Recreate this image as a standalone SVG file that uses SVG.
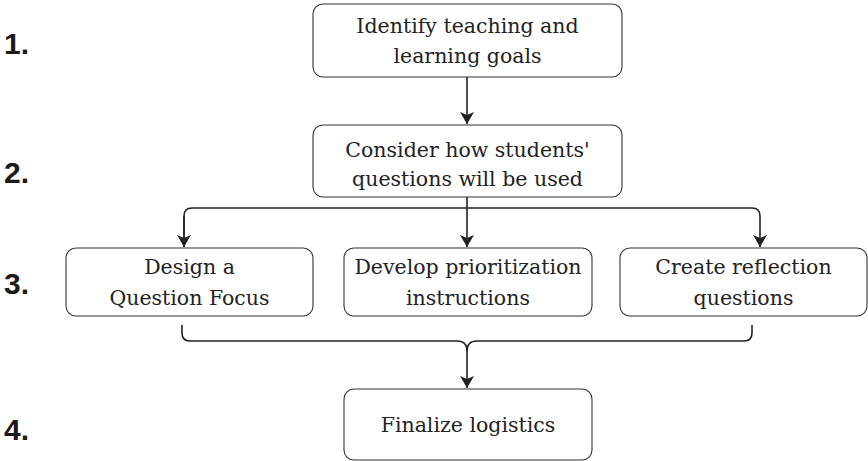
<svg xmlns="http://www.w3.org/2000/svg" width="868" height="461" viewBox="0 0 868 461">
<style>
.box{fill:#fff;stroke:#333;stroke-width:1.1}
.t{font-family:"DejaVu Serif","Liberation Serif",serif;font-size:20.5px;fill:#222;text-anchor:middle}
.n{font-family:"Liberation Sans",Arial,sans-serif;font-size:30px;font-weight:bold;fill:#1a1a1a}
.c{fill:none;stroke:#222;stroke-width:1.6}
</style>
<defs>
<marker id="ah" viewBox="0 0 12 14" refX="12" refY="7" markerWidth="12" markerHeight="14" markerUnits="userSpaceOnUse" orient="auto">
<path d="M0,0 L12,7 L0,14 L3,7 Z" fill="#222"/>
</marker>
</defs>
<rect width="868" height="461" fill="#fff"/>
<g id="labels">
<text class="n" x="4" y="54">1.</text>
<text class="n" x="4" y="183">2.</text>
<text class="n" x="4" y="294">3.</text>
<text class="n" x="4" y="440">4.</text>
</g>
<g id="connectors">
<path class="c" d="M467,77 V124" marker-end="url(#ah)"/>
<path class="c" d="M467,197 V247" marker-end="url(#ah)"/>
<path class="c" d="M184,247 V216 Q184,208 192,208 H752 Q760,208 760,216 V247" marker-end="url(#ah)"/>
<path class="c" d="M184,216 V247" marker-end="url(#ah)"/>
<path class="c" d="M182,325 V333 Q182,341 190,341 H457 Q467,341 467,351"/>
<path class="c" d="M752,325 V333 Q752,341 744,341 H477 Q467,341 467,351 V388" marker-end="url(#ah)"/>
</g>
<g id="n1">
<rect class="box" x="313" y="4" width="309" height="73" rx="10"/>
<text class="t" x="467.5" y="33">Identify teaching and</text>
<text class="t" x="467.5" y="63">learning goals</text>
</g>
<g id="n2">
<rect class="box" x="313" y="125" width="309" height="72" rx="10"/>
<text class="t" x="467.5" y="157">Consider how students'</text>
<text class="t" x="467.5" y="186">questions will be used</text>
</g>
<g id="n3a">
<rect class="box" x="66" y="248" width="247" height="68" rx="10"/>
<text class="t" x="189.5" y="274">Design a</text>
<text class="t" x="189.5" y="305">Question Focus</text>
</g>
<g id="n3b">
<rect class="box" x="344" y="248" width="248" height="68" rx="10"/>
<text class="t" x="468" y="274">Develop prioritization</text>
<text class="t" x="468" y="305">instructions</text>
</g>
<g id="n3c">
<rect class="box" x="620" y="248" width="247" height="68" rx="10"/>
<text class="t" x="743.5" y="274">Create reflection</text>
<text class="t" x="743.5" y="305">questions</text>
</g>
<g id="n4">
<rect class="box" x="344" y="389" width="248" height="71" rx="10"/>
<text class="t" x="468" y="432">Finalize logistics</text>
</g>
</svg>
